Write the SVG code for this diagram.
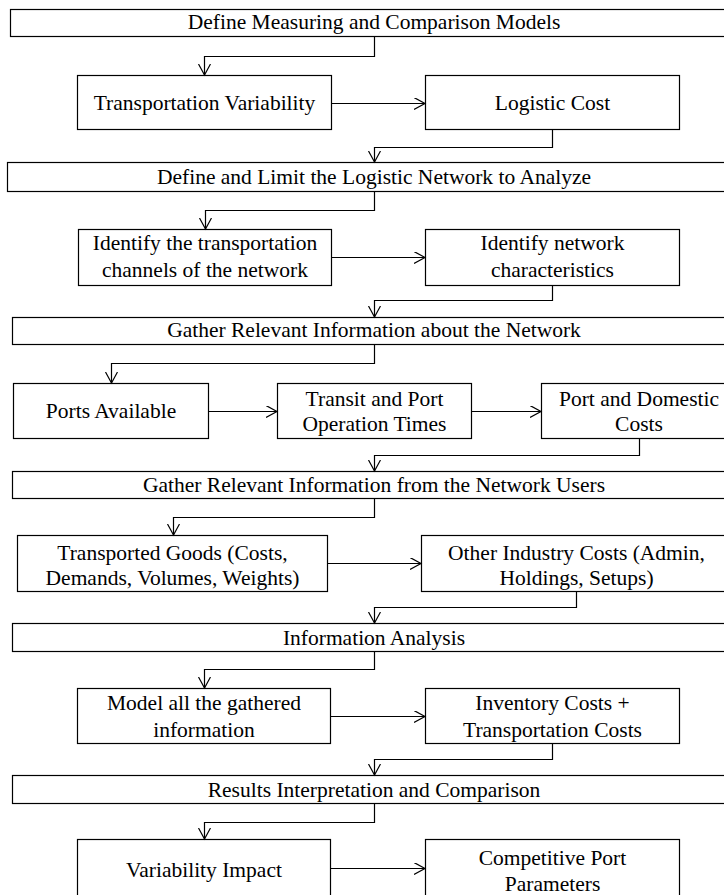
<svg xmlns="http://www.w3.org/2000/svg" width="724" height="895" viewBox="0 0 724 895">
  <style>
    .box { fill: #ffffff; stroke: #000000; stroke-width: 1.2; }
    .lbl { font-family: 'Liberation Serif', 'Times New Roman', 'DejaVu Serif', serif; font-size: 21.5px; fill: #000000; text-anchor: middle; }
    .wire { fill: none; stroke: #000000; stroke-width: 1.2; }
  </style>
  <defs>
    <marker id="arrow" markerUnits="userSpaceOnUse" markerWidth="14" markerHeight="14" refX="11" refY="6" orient="auto">
      <path d="M0,0 L11,6 L0,12" fill="none" stroke="#000000" stroke-width="1.2"/>
    </marker>
  </defs>
  <rect width="724" height="895" fill="#ffffff"/>

  <g font-family="Liberation Serif, Times New Roman, serif">
  <!-- stage 1 -->
  <g id="define-models">
    <rect class="box" x="10.5" y="9.5" width="728" height="27"/>
    <text class="lbl" x="374" y="29">Define Measuring and Comparison Models</text>
  </g>
  <g id="transport-variability">
    <rect class="box" x="77.5" y="75.5" width="254" height="54"/>
    <text class="lbl" x="204.5" y="110">Transportation Variability</text>
  </g>
  <g id="logistic-cost">
    <rect class="box" x="425.5" y="75.5" width="254" height="54"/>
    <text class="lbl" x="552.5" y="110">Logistic Cost</text>
  </g>

  <!-- stage 2 -->
  <g id="define-network">
    <rect class="box" x="7.5" y="162.5" width="733" height="29"/>
    <text class="lbl" x="374" y="184">Define and Limit the Logistic Network to Analyze</text>
  </g>
  <g id="identify-channels">
    <rect class="box" x="78.5" y="229.5" width="253" height="56"/>
    <text class="lbl" x="205" y="250">Identify the transportation</text>
    <text class="lbl" x="205" y="277">channels of the network</text>
  </g>
  <g id="network-characteristics">
    <rect class="box" x="425.5" y="229.5" width="254" height="56"/>
    <text class="lbl" x="552.5" y="250">Identify network</text>
    <text class="lbl" x="552.5" y="277">characteristics</text>
  </g>

  <!-- stage 3 -->
  <g id="gather-network">
    <rect class="box" x="12.5" y="317.5" width="723" height="27"/>
    <text class="lbl" x="374" y="337">Gather Relevant Information about the Network</text>
  </g>
  <g id="ports-available">
    <rect class="box" x="13.5" y="383.5" width="195" height="55"/>
    <text class="lbl" x="111" y="418">Ports Available</text>
  </g>
  <g id="transit-times">
    <rect class="box" x="277.5" y="383.5" width="194" height="55"/>
    <text class="lbl" x="374.5" y="406">Transit and Port</text>
    <text class="lbl" x="374.5" y="431">Operation Times</text>
  </g>
  <g id="port-domestic-costs">
    <rect class="box" x="541.5" y="383.5" width="195" height="55"/>
    <text class="lbl" x="639" y="406">Port and Domestic</text>
    <text class="lbl" x="639" y="431">Costs</text>
  </g>

  <!-- stage 4 -->
  <g id="gather-users">
    <rect class="box" x="12.5" y="471.5" width="723" height="27"/>
    <text class="lbl" x="374" y="492">Gather Relevant Information from the Network Users</text>
  </g>
  <g id="transported-goods">
    <rect class="box" x="17.5" y="535.5" width="310" height="56"/>
    <text class="lbl" x="172.5" y="560">Transported Goods (Costs,</text>
    <text class="lbl" x="172.5" y="585">Demands, Volumes, Weights)</text>
  </g>
  <g id="industry-costs">
    <rect class="box" x="421.5" y="535.5" width="310" height="56"/>
    <text class="lbl" x="576.5" y="560">Other Industry Costs (Admin,</text>
    <text class="lbl" x="576.5" y="585">Holdings, Setups)</text>
  </g>

  <!-- stage 5 -->
  <g id="information-analysis">
    <rect class="box" x="12.5" y="623.5" width="723" height="28"/>
    <text class="lbl" x="374" y="645">Information Analysis</text>
  </g>
  <g id="model-information">
    <rect class="box" x="77.5" y="688.5" width="253" height="55"/>
    <text class="lbl" x="204" y="710">Model all the gathered</text>
    <text class="lbl" x="204" y="737">information</text>
  </g>
  <g id="inventory-transport-costs">
    <rect class="box" x="425.5" y="688.5" width="254" height="55"/>
    <text class="lbl" x="552.5" y="710">Inventory Costs +</text>
    <text class="lbl" x="552.5" y="737">Transportation Costs</text>
  </g>

  <!-- stage 6 -->
  <g id="results-interpretation">
    <rect class="box" x="12.5" y="775.5" width="723" height="28"/>
    <text class="lbl" x="374" y="797">Results Interpretation and Comparison</text>
  </g>
  <g id="variability-impact">
    <rect class="box" x="77.5" y="839.5" width="253" height="70"/>
    <text class="lbl" x="204" y="877">Variability Impact</text>
  </g>
  <g id="competitive-parameters">
    <rect class="box" x="425.5" y="839.5" width="254" height="70"/>
    <text class="lbl" x="552.5" y="865">Competitive Port</text>
    <text class="lbl" x="552.5" y="891">Parameters</text>
  </g>
  </g>

  <!-- connectors -->
  <g id="connectors">
    <path class="wire" marker-end="url(#arrow)" d="M374.5,36.5 V56.5 H204.5 V75"/>
    <path class="wire" marker-end="url(#arrow)" d="M331.5,103.5 H425"/>
    <path class="wire" marker-end="url(#arrow)" d="M552.5,129.5 V147.5 H374.5 V162"/>

    <path class="wire" marker-end="url(#arrow)" d="M374.5,191.5 V210.5 H205.5 V229"/>
    <path class="wire" marker-end="url(#arrow)" d="M331.5,257.5 H425"/>
    <path class="wire" marker-end="url(#arrow)" d="M552.5,285.5 V300.5 H374.5 V317"/>

    <path class="wire" marker-end="url(#arrow)" d="M374.5,344.5 V363.5 H111.5 V383"/>
    <path class="wire" marker-end="url(#arrow)" d="M208.5,411.5 H277"/>
    <path class="wire" marker-end="url(#arrow)" d="M471.5,411.5 H541"/>
    <path class="wire" marker-end="url(#arrow)" d="M639.5,438.5 V455.5 H374.5 V471"/>

    <path class="wire" marker-end="url(#arrow)" d="M374.5,498.5 V517.5 H173.5 V535"/>
    <path class="wire" marker-end="url(#arrow)" d="M327.5,563.5 H421"/>
    <path class="wire" marker-end="url(#arrow)" d="M576.5,591.5 V607.5 H374.5 V623"/>

    <path class="wire" marker-end="url(#arrow)" d="M374.5,651.5 V669.5 H204.5 V688"/>
    <path class="wire" marker-end="url(#arrow)" d="M330.5,716.5 H425"/>
    <path class="wire" marker-end="url(#arrow)" d="M552.5,743.5 V759.5 H374.5 V775"/>

    <path class="wire" marker-end="url(#arrow)" d="M374.5,803.5 V822.5 H204.5 V839"/>
    <path class="wire" marker-end="url(#arrow)" d="M330.5,868.5 H425"/>
  </g>
</svg>
